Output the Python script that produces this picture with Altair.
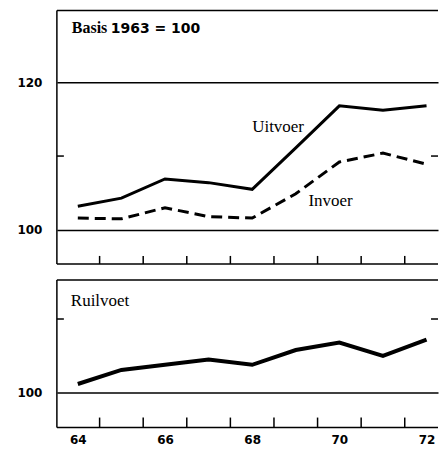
import altair as alt
import pandas as pd

# ---- data ----
years = [1964, 1965, 1966, 1967, 1968, 1969, 1970, 1971, 1972]
uitvoer = [103.2, 104.3, 106.9, 106.4, 105.5, 111.1, 116.8, 116.2, 116.8]
invoer = [101.6, 101.5, 103.0, 101.8, 101.6, 104.9, 109.2, 110.4, 108.9]
ruilvoet = [101.2, 103.1, 103.8, 104.5, 103.8, 105.8, 106.8, 105.0, 107.2]

year_labels = [1964, 1966, 1968, 1970, 1972]
top_y_labels = [100, 120]
bottom_y_labels = [100]
top_side_ticks = [110]
bottom_side_ticks = [110]

basis_word = "Basis"
basis_value = "1963 = 100"
series_names = ["Uitvoer", "Invoer"]
series_label_pos = [(1968.0, 113.24), (1969.29, 103.24)]
bottom_title = "Ruilvoet"

# ---- layout ----
W = 382
H1 = 254
H2 = 148
XDOM = [1963.52, 1972.263]
YDOM1 = [95.4, 129.7]
YDOM2 = [95.3, 115.3]

xs = alt.Scale(domain=XDOM, nice=False, zero=False)
ys1 = alt.Scale(domain=YDOM1, nice=False, zero=False)
ys2 = alt.Scale(domain=YDOM2, nice=False, zero=False)

LABEL_FONT = "DejaVu Sans"
SERIF = "Liberation Serif, Times New Roman, serif"


def y_axis(vals):
    return alt.Axis(values=vals, grid=True, gridColor="black", gridWidth=1.5,
                    ticks=False, domain=False, labelPadding=15,
                    labelFont=LABEL_FONT, labelFontSize=12, labelFontWeight="bold",
                    labelColor="black", minExtent=49, maxExtent=49, title=None)


x_axis_bottom = alt.Axis(values=year_labels, format="d",
                         labelExpr="substring(datum.label, 2)",
                         ticks=False, domain=False, grid=False, labelPadding=7,
                         labelFont=LABEL_FONT, labelFontSize=12, labelFontWeight="bold",
                         labelColor="black", title=None, minExtent=17, maxExtent=17)


def X(field, axis):
    return alt.X(field, type="quantitative", scale=xs, axis=axis)


def Y(field, scale, axis):
    return alt.Y(field, type="quantitative", scale=scale, axis=axis)


one = pd.DataFrame({"k": [0]})
half_years = pd.DataFrame({"t": [y + 0.5 for y in years[:-1]]})


def frame(h):
    top = alt.Chart(one).mark_rule(color="black", strokeWidth=1.5).encode(
        x=alt.value(0), x2=alt.value(W), y=alt.value(0))
    bot = alt.Chart(one).mark_rule(color="black", strokeWidth=1.5).encode(
        x=alt.value(0), x2=alt.value(W), y=alt.value(h))
    left = alt.Chart(one).mark_rule(color="black", strokeWidth=1.5).encode(
        x=alt.value(0), y=alt.value(0), y2=alt.value(h))
    return [top, bot, left]


# ---- top panel ----
ya1 = y_axis(top_y_labels)
df_top = pd.DataFrame({"year": years, "u": uitvoer, "i": invoer})

grid1 = alt.Chart(pd.DataFrame({"v": top_y_labels})).mark_rule(opacity=0).encode(
    y=Y("v", ys1, ya1))
l_uit = alt.Chart(df_top).mark_line(color="black", strokeWidth=3).encode(
    x=X("year", None), y=Y("u", ys1, ya1))
l_inv = alt.Chart(df_top).mark_line(color="black", strokeWidth=3, strokeDash=[11, 6]).encode(
    x=X("year", None), y=Y("i", ys1, ya1))
ticks1 = alt.Chart(half_years).mark_rule(color="black", strokeWidth=1.5).encode(
    x=X("t", None), y=alt.value(H1), y2=alt.value(H1 - 8))
st1 = pd.DataFrame({"v": top_side_ticks})
side1l = alt.Chart(st1).mark_rule(color="black", strokeWidth=1.5).encode(
    y=Y("v", ys1, ya1), x=alt.value(0), x2=alt.value(7))
side1r = alt.Chart(st1).mark_rule(color="black", strokeWidth=1.5).encode(
    y=Y("v", ys1, ya1), x=alt.value(W - 7), x2=alt.value(W))
basis1 = alt.Chart(pd.DataFrame({"s": [basis_word]})).mark_text(
    font=SERIF, fontSize=16, fontWeight="bold", align="left", baseline="alphabetic",
    color="black").encode(
    text="s:N", x=alt.value(15), y=alt.value(23))
basis2 = alt.Chart(pd.DataFrame({"s": [basis_value]})).mark_text(
    font=LABEL_FONT, fontSize=14, fontWeight="bold", align="left", baseline="alphabetic",
    color="black").encode(
    text="s:N", x=alt.value(54), y=alt.value(23))
lab_df = pd.DataFrame({"s": series_names,
                       "x": [p[0] for p in series_label_pos],
                       "y": [p[1] for p in series_label_pos]})
labs = alt.Chart(lab_df).mark_text(font=SERIF, fontSize=17, align="left",
                                   baseline="alphabetic", color="black").encode(
    text="s:N", x=X("x", None), y=Y("y", ys1, ya1))

top = alt.layer(grid1, l_uit, l_inv, ticks1, side1l, side1r, basis1, basis2, labs,
                *frame(H1)).properties(width=W, height=H1)

# ---- bottom panel ----
ya2 = y_axis(bottom_y_labels)
df_bot = pd.DataFrame({"year": years, "r": ruilvoet})
grid2 = alt.Chart(pd.DataFrame({"v": bottom_y_labels})).mark_rule(opacity=0).encode(
    y=Y("v", ys2, ya2))
l_ruil = alt.Chart(df_bot).mark_line(color="black", strokeWidth=4).encode(
    x=X("year", x_axis_bottom), y=Y("r", ys2, ya2))
ticks2 = alt.Chart(half_years).mark_rule(color="black", strokeWidth=1.5).encode(
    x=X("t", x_axis_bottom), y=alt.value(H2), y2=alt.value(H2 - 10))
st2 = pd.DataFrame({"v": bottom_side_ticks})
side2l = alt.Chart(st2).mark_rule(color="black", strokeWidth=1.5).encode(
    y=Y("v", ys2, ya2), x=alt.value(0), x2=alt.value(7))
side2r = alt.Chart(st2).mark_rule(color="black", strokeWidth=1.5).encode(
    y=Y("v", ys2, ya2), x=alt.value(W - 7), x2=alt.value(W))
ruil_lab = alt.Chart(pd.DataFrame({"s": [bottom_title]})).mark_text(
    font=SERIF, fontSize=17, align="left", baseline="alphabetic", color="black").encode(
    text="s:N", x=alt.value(14), y=alt.value(26))

bottom = alt.layer(grid2, l_ruil, ticks2, side2l, side2r, ruil_lab,
                   *frame(H2)).properties(width=W, height=H2)

chart = alt.vconcat(top, bottom, spacing=14).configure(
    padding={"top": 1, "left": 0, "right": 0, "bottom": 0},
    background="white"
).configure_view(stroke=None)

chart.save("out.html", embed_options={"renderer": "svg", "actions": False})
